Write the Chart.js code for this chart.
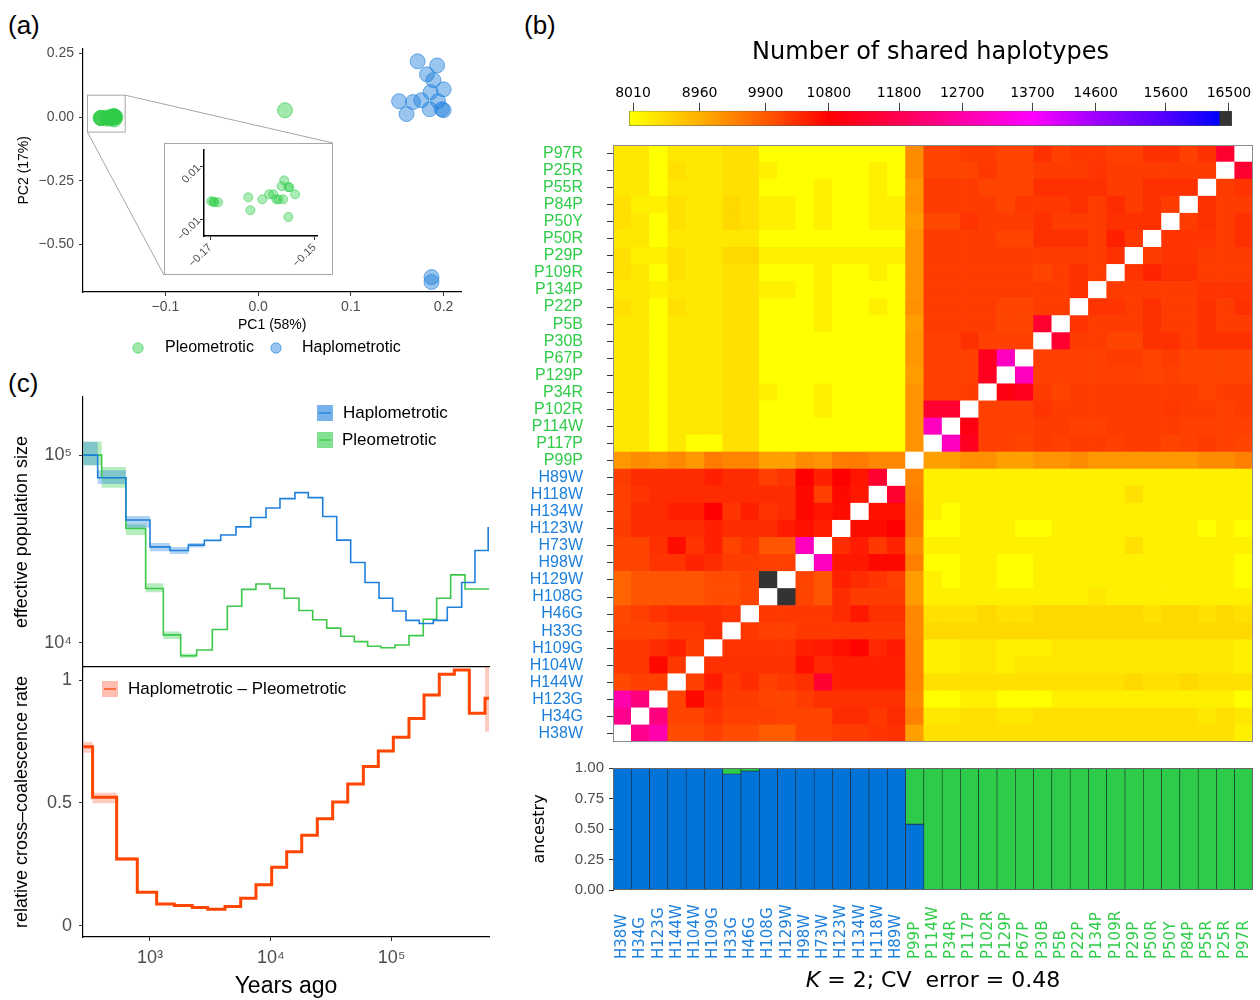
<!DOCTYPE html>
<html><head><meta charset="utf-8">
<script src="https://cdn.jsdelivr.net/npm/chart.js@4.4.0/dist/chart.umd.min.js"></script>
<style>
body{margin:0;background:#fff;width:1260px;height:1000px;position:relative;overflow:hidden;font-family:"Liberation Sans",Arial,sans-serif;}
.abs{position:absolute;}
.plab{position:absolute;font-size:26px;line-height:1;color:#000;}
canvas{display:block;}
</style></head><body>
<div class="plab" style="left:8px;top:12px">(a)</div>
<div class="plab" style="left:524px;top:12px">(b)</div>
<div class="plab" style="left:8px;top:370px">(c)</div>

<div class="abs" style="left:0;top:40px"><canvas id="pca" width="470" height="322"></canvas></div>
<div class="abs" id="insetBox" style="left:164px;top:143px;border:1px solid #a6a6a6;background:#fff"><canvas id="inset" width="167" height="130"></canvas></div>

<div class="abs" style="left:600px;top:30px"><canvas id="cbar" width="660" height="100"></canvas></div>
<div class="abs" style="left:530px;top:140px"><canvas id="heat" width="730" height="605"></canvas></div>
<div class="abs" style="left:530px;top:755px"><canvas id="anc" width="730" height="245"></canvas></div>
<div class="abs" style="left:613px;top:969px;width:640px;text-align:center;font-family:'DejaVu Sans';font-size:22px;color:#000;line-height:1"><i>K</i> = 2; CV&nbsp; error = 0.48</div>

<div class="abs" style="left:0;top:385px"><canvas id="ne" width="490" height="283"></canvas></div>
<div class="abs" style="left:0;top:660px"><canvas id="ccr" width="490" height="340"></canvas></div>

<script>
// ---------------- DATA ----------------
// (a) PCA
const pleoPC1 = [-0.1698,-0.1692,-0.1685,-0.1627,-0.1623,-0.1600,-0.1587,-0.1579,-0.1573,-0.1560,-0.1563,-0.1558,-0.1550,-0.1548,-0.1537,-0.1550,-0.1569,-0.1694,0.0290];
const pleoPC2 = [-0.0032,-0.0036,-0.0036,-0.0017,-0.0066,-0.0025,-0.0006,-0.0006,-0.0025,-0.0025,0.0025,0.0047,0.0021,0.0021,-0.0006,-0.0092,-0.0025,-0.0034,0.0270];
const haploPC1 = [0.172,0.193,0.182,0.189,0.200,0.186,0.152,0.167,0.176,0.194,0.160,0.185,0.198,0.200,0.187,0.187];
const haploPC2 = [0.219,0.203,0.168,0.145,0.109,0.098,0.0625,0.059,0.066,0.0625,0.012,0.031,0.031,0.027,-0.629,-0.648];
const pcaXTicks = [-0.1,0,0.1,0.2];
const pcaYTicks = [0.25,0,-0.25,-0.5];
const insetXTicks = [-0.17,-0.15];
const insetYTicks = [-0.01,0.01];
const zoomBox = {x0:-0.184, x1:-0.1433, y0:-0.059, y1:0.086};

// (b) heatmap: rows top->bottom, columns left->right (reverse order)
const heatRows = ['P97R','P25R','P55R','P84P','P50Y','P50R','P29P','P109R','P134P','P22P','P5B','P30B','P67P','P129P','P34R','P102R','P114W','P117P','P99P','H89W','H118W','H134W','H123W','H73W','H98W','H129W','H108G','H46G','H33G','H109G','H104W','H144W','H123G','H34G','H38W'];
const heatCols = heatRows.slice().reverse();
const shared = [
[8290,8290,8010,8290,8290,8290,8380,8380,8010,8010,8010,8010,8010,8010,8010,8010,9350,10120,10120,10200,10200,10120,10120,10320,10160,10240,10240,10160,10160,10320,10320,10160,10320,11400,null],
[8290,8290,8010,8380,8290,8290,8380,8380,8190,8010,8010,8010,8010,8010,8190,8010,9350,10120,10120,10120,10240,10120,10120,10200,10200,10200,10280,10200,10200,10200,10200,10200,10200,null,11400],
[8290,8290,8010,8290,8290,8290,8380,8380,8010,8010,8010,8190,8010,8010,8190,8010,9220,10200,10200,10200,10120,10120,10120,10320,10320,10320,10320,10200,10200,10320,10320,10320,null,10200,10280],
[8380,8190,8190,8380,8290,8290,8480,8380,8190,8190,8010,8190,8010,8010,8190,8190,9270,10200,10200,10200,10200,10120,10240,10240,10240,10320,10200,10360,10200,10320,10200,null,10320,10200,10200],
[8380,8290,8010,8380,8290,8290,8480,8380,8190,8190,8010,8190,8010,8010,8190,8190,9180,10080,10080,10280,10200,10200,10200,10320,10200,10200,10200,10320,10320,10320,null,10200,10320,10200,10320],
[8290,8290,8010,8290,8290,8290,8290,8290,8010,8010,8010,8010,8010,8010,8010,8010,9270,10200,10200,10200,10200,10120,10120,10320,10320,10320,10200,10480,10240,null,10280,10280,10280,10200,10320],
[8380,8190,8190,8380,8290,8290,8480,8480,8190,8190,8190,8190,8190,8190,8190,8190,9270,10200,10200,10200,10200,10200,10200,10200,10200,10200,10200,10320,null,10200,10280,10280,10200,10200,10200],
[8380,8290,8010,8380,8290,8290,8380,8380,8010,8010,8010,8190,8010,8010,8190,8010,9270,10200,10200,10200,10200,10200,10200,10120,10200,10320,10200,null,10280,10440,10320,10320,10200,10200,10200],
[8290,8290,8190,8290,8290,8290,8380,8380,8190,8190,8010,8190,8010,8010,8010,8010,9270,10200,10200,10200,10200,10200,10200,10200,10200,10320,null,10200,10200,10200,10200,10200,10280,10280,10280],
[8380,8290,8010,8380,8290,8290,8380,8380,8010,8010,8010,8190,8010,8010,8190,8010,9310,10200,10200,10200,10200,10120,10120,10200,10200,null,10280,10280,10200,10320,10200,10200,10320,10200,10320],
[8290,8290,8010,8290,8290,8290,8380,8380,8010,8010,8010,8190,8010,8010,8010,8010,9180,10200,10200,10200,10200,10120,10120,11400,null,10280,10200,10200,10200,10320,10200,10200,10320,10200,10200],
[8290,8290,8010,8290,8290,8290,8380,8380,8010,8010,8010,8010,8010,8010,8010,8010,9220,10160,10160,10320,10160,10160,10160,null,11400,10200,10200,10120,10120,10320,10320,10200,10320,10320,10320],
[8290,8290,8010,8290,8290,8290,8380,8380,8010,8010,8010,8010,8010,8010,8010,8010,9220,10160,10160,10160,11200,12980,null,10160,10160,10160,10160,10200,10200,10120,10200,10120,10120,10120,10120],
[8290,8290,8010,8290,8290,8290,8380,8380,8010,8010,8010,8010,8010,8010,8010,8010,9180,10160,10160,10160,11200,null,12980,10160,10160,10160,10160,10160,10160,10120,10160,10120,10120,10120,10120],
[8290,8290,8010,8290,8290,8290,8380,8380,8190,8010,8010,8190,8010,8010,8010,8010,9270,10160,10160,10200,null,11000,11200,10200,10120,10200,10200,10200,10200,10200,10200,10200,10120,10200,10200],
[8290,8290,8010,8290,8290,8290,8380,8380,8010,8010,8010,8190,8010,8010,8010,8010,9270,11400,11400,null,10160,10160,10160,10280,10200,10200,10200,10200,10200,10200,10240,10200,10200,10160,10200],
[8290,8290,8010,8290,8290,8290,8380,8380,8010,8010,8010,8010,8010,8010,8010,8010,9270,12980,null,11000,10160,10160,10160,10200,10200,10160,10160,10200,10200,10200,10200,10160,10160,10160,10160],
[8290,8290,8010,8290,8010,8010,8380,8380,8010,8010,8010,8010,8010,8010,8010,8010,9270,null,12980,11200,10160,10160,10120,10200,10160,10200,10200,10160,10200,10200,10120,10160,10200,10160,10120],
[9220,9350,9270,9400,9220,9530,9440,9440,9140,9140,9350,9270,9530,9530,9400,9400,null,9140,9140,9310,9310,9140,9140,9270,9270,9350,9220,9220,9220,9220,9220,9220,9350,9350,9480],
[10200,10360,10360,10360,10360,10480,10360,10360,10160,10280,10800,10480,10800,10600,11400,null,9440,8190,8190,8190,8190,8190,8190,8190,8190,8190,8190,8190,8190,8190,8190,8190,8190,8190,8190],
[10160,10280,10360,10360,10360,10360,10360,10360,10360,10360,10720,10160,10720,10560,null,11400,9480,8190,8190,8190,8190,8190,8190,8190,8190,8190,8190,8190,8380,8190,8190,8190,8190,8190,8190],
[10160,10360,10360,10480,10480,10800,10280,10480,10280,10360,10720,10600,10680,null,10640,10640,9570,8190,8010,8190,8190,8190,8190,8190,8190,8190,8190,8190,8190,8190,8190,8190,8190,8190,8190],
[10200,10360,10360,10360,10360,10480,10360,10360,10360,10520,10640,10480,null,10680,10680,10800,9570,8010,8010,8190,8190,8190,8010,8010,8190,8190,8190,8190,8190,8190,8190,8190,8010,8190,8010],
[10120,10120,10320,10680,10280,10480,10120,10280,9960,9960,12980,null,10360,10520,10240,10440,9350,8190,8190,8190,8190,8190,8190,8190,8190,8190,8190,8190,8380,8190,8190,8190,8190,8190,8190],
[10120,10120,10280,10280,10440,10360,10200,10200,10160,10160,null,12980,10560,10560,10720,10720,9480,8010,8010,8190,8190,8010,8010,8190,8190,8190,8190,8190,8190,8190,8190,8190,8190,8190,8010],
[9790,9960,9960,9960,9960,10040,10040,10120,16500,null,10120,9960,10480,10360,10280,10160,9180,8190,8010,8190,8190,8010,8010,8190,8190,8190,8190,8190,8190,8190,8190,8190,8190,8190,8010],
[9790,9960,9960,9960,9960,10040,10040,10120,null,16500,10120,9960,10360,10200,10200,10200,9180,8190,8190,8190,8190,8190,8190,8190,8190,8190,8290,8190,8190,8190,8190,8190,8190,8190,8190],
[10080,10160,10280,10360,10360,10360,10280,null,10240,10240,10240,10240,10360,10560,10320,10320,9400,8380,8380,8380,8480,8380,8380,8480,8480,8480,8480,8480,8480,8380,8480,8480,8380,8480,8380],
[10120,10120,10120,10240,10240,10360,null,10240,10160,10160,10240,10240,10240,10240,10240,10240,9400,8480,8480,8480,8480,8480,8480,8480,8480,8480,8480,8480,8480,8480,8480,8480,8480,8480,8480],
[10240,10240,10360,10480,10200,null,10280,10280,10280,10280,10480,10520,10640,10760,10400,10520,9440,8190,8190,8290,8290,8190,8190,8190,8290,8290,8290,8290,8290,8290,8290,8290,8290,8290,8190],
[10240,10240,10720,10240,null,10320,10320,10320,10320,10320,10640,10400,10480,10480,10480,10480,9440,8190,8190,8290,8290,8190,8290,8290,8290,8290,8290,8290,8290,8290,8290,8290,8290,8290,8190],
[10080,10160,10160,null,10160,10520,10240,10360,10160,10240,10320,11400,10480,10480,10480,10480,9440,8380,8380,8380,8380,8380,8380,8380,8380,8380,8380,8380,8480,8380,8380,8480,8380,8380,8380],
[12760,12270,null,10120,10720,10360,10200,10200,10120,10120,10200,10320,10320,10320,10320,10320,9350,8010,8010,8190,8190,8010,8010,8010,8190,8190,8190,8190,8190,8190,8190,8190,8190,8190,8010],
[12430,null,12270,10120,10120,10280,10160,10160,10160,10120,10120,10120,10360,10360,10240,10360,9480,8290,8290,8380,8380,8290,8290,8380,8380,8380,8380,8380,8380,8380,8380,8380,8290,8380,8290],
[null,12430,12760,10040,10040,10160,10040,10040,9880,9880,10120,10120,10200,10200,10280,10320,9140,8380,8380,8380,8380,8380,8380,8380,8380,8380,8380,8380,8380,8380,8380,8380,8380,8380,8190]
];
const colorbarTicks = [8010,8960,9900,10800,11800,12700,13700,14600,15600,16500];
const colorbarRange = [7953,16543];

// (b) ancestry
const ancestryLabels = ['H38W','H34G','H123G','H144W','H104W','H109G','H33G','H46G','H108G','H129W','H98W','H73W','H123W','H134W','H118W','H89W','P99P','P114W','P34R','P117P','P102R','P129P','P67P','P30B','P5B','P22P','P134P','P109R','P29P','P50R','P50Y','P84P','P55R','P25R','P97R'];
const ancestryHaplo = [1,1,1,1,1,1,0.95,0.975,1,1,1,1,1,1,1,1,0.54,0,0,0,0,0,0,0,0,0,0,0,0,0,0,0,0,0,0];
const ancestryPleo  = [0,0,0,0,0,0,0.05,0.025,0,0,0,0,0,0,0,0,0.46,1,1,1,1,1,1,1,1,1,1,1,1,1,1,1,1,1,1];
const ancestryTicks = [0,0.25,0.5,0.75,1];

// (c) MSMC
const haploStart = [280,369,632,1000,1464,2077,2818,3850,5150,6820,9130,11910,15850,20430,26900,35140,45840,60230,78700,102100,131500,169500,221300,289000,380200,489800,630000];
const haploNe    = [100000,75850,45200,32500,31050,33200,35200,37560,41500,46600,52300,58700,63200,59400,47100,35300,26800,21000,17300,14800,13200,12700,13200,15500,21000,31050,41100];
const haploLo    = [88400,70300,41100,30800,29800,32200];
const haploHi    = [118000,83000,47500,34100,32400,34100];
const pleoStart  = [280,398,632,921,1290,1795,2435,3280,4366,5745,7540,9840,12930,17110,22220,29030,37920,49130,63390,81670,106600,139300,182900,236000,308300,405200];
const pleoNe     = [100000,75850,40700,19500,11050,8550,9170,11800,15700,19300,20600,19500,17300,14900,13300,12000,10870,10170,9600,9440,9760,10950,13370,17300,23060,19380];
const pleoLo     = [88400,67000,37600,18600,10500,8340];
const pleoHi     = [118000,86500,42900,20800,11500,8800];
const ccrStart   = [280,335,530,785,1136,1588,2239,3004,4178,5634,7540,10170,13540,18030,24270,32530,43330,58340,77620,103300,139300,185500,248200,330500,439800,593000];
const ccrVal     = [0.729,0.523,0.272,0.137,0.089,0.083,0.075,0.068,0.079,0.113,0.167,0.239,0.302,0.369,0.436,0.504,0.577,0.648,0.711,0.767,0.844,0.939,1.024,1.041,0.865,0.926];
const ccrLo      = [0.704,0.499,0.265,null,null,null,null,null,null,null,null,null,null,null,null,null,null,null,null,null,null,null,null,null,null,0.79];
const ccrHi      = [0.749,0.542,0.280,null,null,null,null,null,null,null,null,null,null,null,null,null,null,null,null,null,null,null,null,null,null,1.054];
const timeRange  = [279,640000];
const neRange    = [7450,204000];
const ccrRange   = [-0.045,1.053];
const timeTicks  = [1000,10000,100000];
const neTicks    = [10000,100000];
const ccrTicks   = [0,0.5,1];

// ---------------- STYLE ----------------
const GREEN = '#2ecc48', BLUE = '#1c7fdc';
const cmapStops  = [8010,8960,9900,10800,11800,12700,13700,14600,15600,16360,16370,16543];
const cmapColors = ['#ffff00','#ffb000','#ff5a00','#ff0000','#ff0050','#ff00a8','#ff00ff','#a000ff','#5000ff','#0000ff','#333333','#333333'];
const SANS = "'Liberation Sans', Arial, sans-serif";
const DEJA = "'DejaVu Sans', sans-serif";
Chart.defaults.font.family = SANS;
Chart.defaults.color = '#4d4d4d';
Chart.defaults.animation = false;
Chart.defaults.plugins.legend.display = false;
Chart.defaults.plugins.tooltip.enabled = false;

function hexRgb(h){return [parseInt(h.slice(1,3),16),parseInt(h.slice(3,5),16),parseInt(h.slice(5,7),16)];}
function cmapColor(v){
  if (v == null) return '#ffffff';
  if (v <= cmapStops[0]) return cmapColors[0];
  for (let i = 0; i < cmapStops.length - 1; i++) {
    if (v <= cmapStops[i+1]) {
      const t = (v - cmapStops[i]) / (cmapStops[i+1] - cmapStops[i]);
      const a = hexRgb(cmapColors[i]), b = hexRgb(cmapColors[i+1]);
      return 'rgb(' + a.map((c,k)=>Math.round(c + (b[k]-c)*t)).join(',') + ')';
    }
  }
  return cmapColors[cmapColors.length-1];
}
const minus = s => s.replace('-', '\u2212');
const fmt = (v, d) => minus(Number(v).toFixed(d));
const supers = {1000:'10\u00b3', 10000:'10\u2074', 100000:'10\u2075'};
function fixTicks(list){ return s => { s.ticks = list.map(v => ({value: v})); }; }
const fitW = w => s => { s.width = w; s.paddingTop = 0; s.paddingBottom = 0; };
const fitH = h => s => { s.height = h; s.paddingLeft = 0; s.paddingRight = 0; };

// ---------------- PLUGINS ----------------
const frame = { id:'frame', afterDatasetsDraw(chart, a, o){
  if (!o || !o.color) return; const c = chart.chartArea, ctx = chart.ctx;
  ctx.save(); ctx.strokeStyle = o.color; ctx.lineWidth = o.width || 1;
  ctx.strokeRect(c.left + 0.5, c.top + 0.5, c.right - c.left - 1, c.bottom - c.top - 1); ctx.restore(); } };

const keyLegend = { id:'keyLegend', afterDraw(chart, a, o){
  if (!o || !o.items) return; const ctx = chart.ctx;
  ctx.save(); ctx.font = (o.size || 16) + 'px ' + SANS; ctx.textBaseline = 'middle'; ctx.textAlign = 'left';
  o.items.forEach(it => {
    const ds = chart.data.datasets[it.ds];
    if (it.kind === 'circle') {
      ctx.beginPath(); ctx.arc(it.x, it.y, 5.2, 0, Math.PI*2);
      ctx.fillStyle = ds.backgroundColor; ctx.fill(); ctx.strokeStyle = ds.borderColor; ctx.lineWidth = 1; ctx.stroke();
    } else {
      ctx.fillStyle = it.fill; ctx.fillRect(it.x - 8, it.y - 8, 16, 16);
      ctx.strokeStyle = ds.borderColor; ctx.lineWidth = 1.3; ctx.beginPath(); ctx.moveTo(it.x - 6, it.y); ctx.lineTo(it.x + 6, it.y); ctx.stroke();
    }
    ctx.fillStyle = '#000'; ctx.fillText(ds.label, it.tx, it.y);
  });
  ctx.restore(); } };

const zoomLines = { id:'zoomLines', afterDatasetsDraw(chart, a, o){
  const xs = chart.scales.x, ys = chart.scales.y, ctx = chart.ctx;
  const x0 = xs.getPixelForValue(zoomBox.x0), x1 = xs.getPixelForValue(zoomBox.x1);
  const y0 = ys.getPixelForValue(zoomBox.y0), y1 = ys.getPixelForValue(zoomBox.y1);
  const cr = chart.canvas.getBoundingClientRect(), ir = document.getElementById('insetBox').getBoundingClientRect();
  ctx.save(); ctx.strokeStyle = '#a6a6a6'; ctx.lineWidth = 1;
  ctx.strokeRect(x0, y1, x1 - x0, y0 - y1);
  ctx.beginPath(); ctx.moveTo(x1, y1); ctx.lineTo(ir.right - cr.left, ir.top - cr.top);
  ctx.moveTo(x0, y0); ctx.lineTo(ir.left - cr.left, ir.bottom - cr.top); ctx.stroke(); ctx.restore(); } };

const vertLabels = { id:'vertLabels', afterDraw(chart, a, o){
  const xs = chart.scales.x, ctx = chart.ctx;
  ctx.save(); ctx.font = '15px ' + DEJA; ctx.textAlign = 'left'; ctx.textBaseline = 'middle';
  chart.data.labels.forEach((lab, i) => {
    ctx.save(); ctx.translate(xs.getPixelForValue(i), o.y); ctx.rotate(-Math.PI/2);
    ctx.fillStyle = lab[0] === 'P' ? GREEN : BLUE; ctx.fillText(lab, 0, 0); ctx.restore();
  });
  ctx.restore(); } };

function stepPts(starts, vals, end){
  const pts = [];
  for (let i = 0; i < vals.length; i++) {
    if (vals[i] == null) { pts.push({x: starts[i], y: null}); continue; }
    pts.push({x: starts[i], y: vals[i]});
    const last = i + 1 >= vals.length;
    if (last || vals[i+1] == null) pts.push({x: last ? end : starts[i+1], y: vals[i]});
  }
  return pts;
}
const axisGrid = {drawOnChartArea:false, drawTicks:true, tickLength:4, color:'#333'};
const axisBorder = {display:true, color:'#000', width:1.2};

// ---------------- (a) PCA ----------------
const pleoPts = pleoPC1.map((x,i)=>({x, y: pleoPC2[i]}));
const haploPts = haploPC1.map((x,i)=>({x, y: haploPC2[i]}));
new Chart(document.getElementById('pca'), {
  type:'scatter',
  data:{datasets:[
    {label:'Pleometrotic', data:pleoPts, backgroundColor:'rgba(46,204,72,0.45)', borderColor:'rgba(46,204,72,0.6)', borderWidth:1, pointRadius:7.5},
    {label:'Haplometrotic', data:haploPts, backgroundColor:'rgba(28,127,220,0.45)', borderColor:'rgba(28,127,220,0.6)', borderWidth:1, pointRadius:7.5}
  ]},
  options:{responsive:false, devicePixelRatio:1,
    layout:{padding:{top:7, right:5, bottom:28, left:0}},
    plugins:{keyLegend:{size:16, items:[{ds:0, kind:'circle', x:138, y:308, tx:165},{ds:1, kind:'circle', x:276, y:308, tx:302}]}},
    scales:{
      x:{type:'linear', min:-0.1888, max:0.2193, afterBuildTicks:fixTicks(pcaXTicks), afterFit:fitH(42),
         ticks:{callback:v=>fmt(v,1), font:{size:14}, padding:3, maxRotation:0}, grid:axisGrid, border:axisBorder,
         title:{display:true, text:'PC1 (58%)', color:'#000', font:{size:14}, padding:{top:0,bottom:0}}},
      y:{type:'linear', min:-0.6875, max:0.2695, afterBuildTicks:fixTicks(pcaYTicks), afterFit:fitW(83),
         ticks:{callback:v=>fmt(v,2), font:{size:14}, padding:5}, grid:axisGrid, border:axisBorder,
         title:{display:true, text:'PC2 (17%)', color:'#000', font:{size:14}, padding:{top:16,bottom:0}}}
    }},
  plugins:[keyLegend, zoomLines]
});
new Chart(document.getElementById('inset'), {
  type:'scatter',
  data:{datasets:[{label:'Pleometrotic', data:pleoPts, backgroundColor:'rgba(46,204,72,0.4)', borderColor:'rgba(46,204,72,0.55)', borderWidth:1, pointRadius:4.5}]},
  options:{responsive:false, devicePixelRatio:1,
    layout:{padding:{top:5, right:15, bottom:0, left:0}},
    scales:{
      x:{type:'linear', min:-0.1712, max:-0.1495, afterBuildTicks:fixTicks(insetXTicks), afterFit:fitH(38),
         ticks:{callback:v=>fmt(v,2), font:{size:11}, padding:1, minRotation:45, maxRotation:45}, grid:axisGrid, border:{display:true,color:'#000',width:1.5}},
      y:{type:'linear', min:-0.0164, max:0.0164, afterBuildTicks:fixTicks(insetYTicks), afterFit:fitW(39),
         ticks:{callback:v=>fmt(v,2), font:{size:11}, padding:1, minRotation:45, maxRotation:45}, grid:axisGrid, border:{display:true,color:'#000',width:1.5}}
    }}
});

// ---------------- (b) colour bar ----------------
new Chart(document.getElementById('cbar'), {
  type:'bar',
  data:{labels:[''], datasets:[{data:[colorbarRange], borderColor:'#555', borderWidth:0.8, borderSkipped:false, barPercentage:1, categoryPercentage:1,
    backgroundColor:(ctx)=>{
      const ch = ctx.chart, area = ch.chartArea; if (!area) return '#ff0';
      const xs = ch.scales.x, g = ch.ctx.createLinearGradient(area.left,0,area.right,0);
      cmapStops.forEach((v,i)=>{ const p = (xs.getPixelForValue(v) - area.left) / (area.right - area.left); g.addColorStop(Math.min(1,Math.max(0,p)), cmapColors[i]); });
      return g; }}]},
  options:{responsive:false, devicePixelRatio:1, indexAxis:'y',
    layout:{padding:{left:29, right:28, bottom:4, top:0}},
    plugins:{title:{display:true, text:'Number of shared haplotypes', color:'#000', font:{size:24, family:DEJA, weight:'normal'}, padding:{top:8,bottom:6}}},
    scales:{
      x:{position:'top', min:colorbarRange[0], max:colorbarRange[1], afterBuildTicks:fixTicks(colorbarTicks), afterFit:fitH(38),
         ticks:{callback:v=>String(v), color:'#000', font:{size:14, family:DEJA}, padding:1, maxRotation:0, autoSkip:false},
         grid:{drawOnChartArea:false, drawTicks:true, tickLength:8, color:'#444'}, border:{display:false}},
      y:{display:false}
    }}
});

// ---------------- (b) heatmap ----------------
const heatDatasets = [];
for (let k = 0; k < heatRows.length; k++) {
  const r = heatRows.length - 1 - k;
  heatDatasets.push({label:heatRows[r], data:heatCols.map(()=>1), backgroundColor:shared[r].map(cmapColor), borderWidth:0, barPercentage:1, categoryPercentage:1});
}
new Chart(document.getElementById('heat'), {
  type:'bar',
  data:{labels:heatCols, datasets:heatDatasets},
  options:{responsive:false, devicePixelRatio:1,
    layout:{padding:{top:5, right:7, bottom:3, left:0}},
    plugins:{frame:{color:'#8c8c8c', width:1}},
    scales:{
      x:{display:false, stacked:true},
      y:{stacked:true, min:0, max:heatRows.length, afterFit:fitW(83),
         afterBuildTicks:s=>{ s.ticks = heatRows.map((_,r)=>({value: heatRows.length - 1 - r + 0.5})); },
         ticks:{autoSkip:false, padding:24, font:{size:16},
           callback:v=>heatRows[heatRows.length - 1 - Math.floor(v)],
           color:c=>heatRows[heatRows.length - 1 - Math.floor(c.tick.value)][0]==='P' ? GREEN : BLUE},
         grid:{drawOnChartArea:false, drawTicks:true, tickLength:6, color:'#333'}, border:{display:false}}
    }},
  plugins:[frame]
});

// ---------------- (b) ancestry ----------------
new Chart(document.getElementById('anc'), {
  type:'bar',
  data:{labels:ancestryLabels, datasets:[
    {label:'Haplometrotic', data:ancestryHaplo, backgroundColor:'#0073d9', borderColor:'#1d1d1d', borderWidth:0.6, borderSkipped:false, barPercentage:1, categoryPercentage:1},
    {label:'Pleometrotic', data:ancestryPleo, backgroundColor:'#2ccc4a', borderColor:'#1d1d1d', borderWidth:0.6, borderSkipped:false, barPercentage:1, categoryPercentage:1}
  ]},
  options:{responsive:false, devicePixelRatio:1,
    layout:{padding:{top:13, right:7, bottom:0, left:0}},
    plugins:{frame:{color:'#666', width:1}, vertLabels:{y:204}},
    scales:{
      x:{stacked:true, afterFit:fitH(110), ticks:{display:false}, grid:{display:false}, border:{display:false}},
      y:{stacked:true, min:0, max:1, afterBuildTicks:fixTicks(ancestryTicks), afterFit:fitW(83),
         ticks:{callback:v=>Number(v).toFixed(2), font:{size:15}, padding:5}, grid:axisGrid, border:{display:true,color:'#333',width:1},
         title:{display:true, text:'ancestry', color:'#000', font:{size:16, family:DEJA}, padding:{top:0,bottom:0}}}
    }},
  plugins:[frame, vertLabels]
});

// ---------------- (c) Ne ----------------
const HBAND = 'rgba(28,127,220,0.35)', PBAND = 'rgba(46,204,72,0.35)';
new Chart(document.getElementById('ne'), {
  type:'line',
  data:{datasets:[
    {label:'Haplometrotic', data:stepPts(haploStart, haploNe, timeRange[1]), borderColor:'#1f80dc', borderWidth:1.6, pointRadius:0, stepped:true, fill:false},
    {label:'Pleometrotic', data:stepPts(pleoStart, pleoNe, timeRange[1]), borderColor:'#3cc84a', borderWidth:1.6, pointRadius:0, stepped:true, fill:false},
    {label:'hlo', data:stepPts(haploStart, haploLo, haploStart[haploLo.length]), borderWidth:0, pointRadius:0, stepped:true, fill:false},
    {label:'hhi', data:stepPts(haploStart, haploHi, haploStart[haploHi.length]), borderWidth:0, pointRadius:0, stepped:true, fill:2, backgroundColor:HBAND},
    {label:'plo', data:stepPts(pleoStart, pleoLo, pleoStart[pleoLo.length]), borderWidth:0, pointRadius:0, stepped:true, fill:false},
    {label:'phi', data:stepPts(pleoStart, pleoHi, pleoStart[pleoHi.length]), borderWidth:0, pointRadius:0, stepped:true, fill:4, backgroundColor:PBAND}
  ]},
  options:{responsive:false, devicePixelRatio:1,
    layout:{padding:{top:12, right:1, bottom:0, left:0}},
    plugins:{keyLegend:{size:17, items:[{ds:0, kind:'box', fill:'rgba(28,127,220,0.6)', x:325, y:28, tx:343},{ds:1, kind:'box', fill:'rgba(46,204,72,0.6)', x:325, y:55, tx:342}]}},
    scales:{
      x:{type:'logarithmic', min:timeRange[0], max:timeRange[1], afterFit:fitH(1), ticks:{display:false}, grid:{display:false}, border:{display:true,color:'#000',width:1.2}},
      y:{type:'logarithmic', min:neRange[0], max:neRange[1], afterBuildTicks:fixTicks(neTicks), afterFit:fitW(83),
         ticks:{callback:v=>supers[v]||'', font:{size:18}, padding:7}, grid:axisGrid, border:axisBorder,
         title:{display:true, text:'effective population size', color:'#000', font:{size:18}, padding:{top:11,bottom:0}}}
    }},
  plugins:[keyLegend]
});

// ---------------- (c) cross-coalescence ----------------
new Chart(document.getElementById('ccr'), {
  type:'line',
  data:{datasets:[
    {label:'Haplometrotic \u2013 Pleometrotic', data:stepPts(ccrStart, ccrVal, timeRange[1]), borderColor:'#ff4500', borderWidth:3, pointRadius:0, stepped:true, fill:false},
    {label:'lo', data:stepPts(ccrStart, ccrLo, timeRange[1]), borderWidth:0, pointRadius:0, stepped:true, fill:false},
    {label:'hi', data:stepPts(ccrStart, ccrHi, timeRange[1]), borderWidth:0, pointRadius:0, stepped:true, fill:1, backgroundColor:'rgba(255,110,80,0.35)'}
  ]},
  options:{responsive:false, devicePixelRatio:1,
    layout:{padding:{top:7, right:1, bottom:0, left:0}},
    plugins:{keyLegend:{size:17, items:[{ds:0, kind:'box', fill:'rgba(255,110,80,0.45)', x:110, y:29, tx:128}]}},
    scales:{
      x:{type:'logarithmic', min:timeRange[0], max:timeRange[1], afterBuildTicks:fixTicks(timeTicks), afterFit:fitH(63),
         ticks:{callback:v=>supers[v]||'', font:{size:18}, padding:6, maxRotation:0}, grid:axisGrid, border:axisBorder,
         title:{display:true, text:'Years ago', color:'#000', font:{size:23}, padding:{top:0,bottom:0}}},
      y:{type:'linear', min:ccrRange[0], max:ccrRange[1], afterBuildTicks:fixTicks(ccrTicks), afterFit:fitW(83),
         ticks:{callback:v=>String(v), font:{size:18}, padding:7}, grid:axisGrid, border:axisBorder,
         title:{display:true, text:'relative cross\u2013coalescence rate', color:'#000', font:{size:18}, padding:{top:11,bottom:0}}}
    }},
  plugins:[keyLegend]
});
</script>
</body></html>
